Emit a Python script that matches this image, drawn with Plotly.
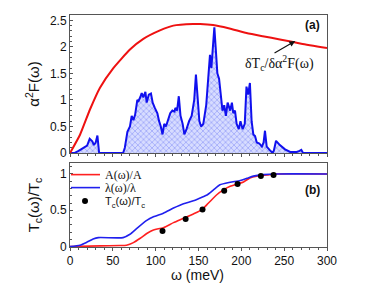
import plotly.graph_objects as go

# alpha^2 F(omega) spectrum
a2f_w = [0, 5, 10, 15, 20, 23, 26, 28, 30, 32, 33.5, 34, 40, 50, 62, 64, 66, 67, 70, 72, 74, 76, 78.6, 80, 82, 83.7, 85.6, 88, 89.5, 92, 94.5, 96.5,
         99, 102, 104, 106, 108, 110, 112, 115, 117, 119.5, 122, 123, 125, 127, 129, 131.5, 133.5, 136, 139, 142, 145, 147,
         148.6, 151, 153, 155.6, 159, 161.5, 163.4, 165, 167, 168.5, 170, 172, 174, 176, 178, 180, 182, 184, 187, 189, 190.6,
         192.6, 194.5, 197, 199, 201.5, 204, 206, 208, 210, 212, 214, 216, 218, 221, 224, 226, 227.6, 229.6, 233.5, 236.6,
         238, 240.5, 245, 251, 257, 264.6, 268, 270, 272, 280, 300]
a2f_v = [0, 0.0, 0.04, 0.09, 0.14, 0.27, 0.22, 0.15, 0.2, 0.33, 0.1, 0.0, 0, 0, 0, 0.1, 0.3, 0.4, 0.5, 0.7, 0.62, 0.72, 1.0, 0.98, 1.05, 1.13, 1.05, 1.15, 0.95, 1.1, 1.12, 0.95,
         0.85, 0.75, 0.6, 0.5, 0.35, 0.55, 0.5, 0.63, 0.75, 0.8, 0.78, 0.85, 0.8, 1.07, 0.7, 0.55, 0.35, 0.45, 0.6, 0.7, 1.0, 1.48,
         1.1, 0.6, 0.5, 0.55, 0.9, 1.5, 1.85, 1.6, 2.0, 2.37, 2.0, 1.5, 1.4, 1.1, 0.8, 0.9, 0.7, 0.95, 0.8, 0.95, 0.75,
         0.8, 0.55, 0.45, 0.6, 0.45, 0.55, 1.25, 1.1, 1.32, 0.6, 0.35, 0.32, 0.2, 0.18, 0.12, 0.2, 0.42, 0.12, 0.05, 0.0,
         0.05, 0.23, 0.15, 0.07, 0.02, 0.02, 0.04, 0.06, 0.0, 0, 0]

# functional derivative dTc/d(a2F)
dtc_w = [0, 11.7, 23.3, 35, 50.6, 70, 85.6, 105, 120.6, 143.8, 152, 167, 185, 206, 225, 245, 270, 300]
dtc_v = [0, 0.345, 0.82, 1.23, 1.6, 1.95, 2.15, 2.31, 2.40, 2.43, 2.43, 2.41, 2.35, 2.26, 2.2, 2.14, 2.06, 1.98]

# lambda(omega)/lambda
lam_w = [0, 11.7, 19.5, 27, 33, 62, 70, 78, 89.6, 97.4, 109, 120.8, 132.5, 144, 152, 160, 167.5, 175, 187, 198.7, 206.5, 214, 226, 241.5, 300]
lam_v = [0, 0.02, 0.06, 0.105, 0.124, 0.124, 0.17, 0.25, 0.36, 0.41, 0.46, 0.53, 0.59, 0.63, 0.67, 0.71, 0.78, 0.85, 0.885, 0.91, 0.94, 0.97, 0.99, 1.0, 1.0]

# A(omega)/A
A_w = [0, 35, 58, 66, 74, 82, 89.6, 97.4, 109, 120.8, 132.5, 144, 154, 161.7, 171, 179, 187, 194.8, 202.6, 210, 218, 230, 241.5, 300]
A_v = [0, 0.01, 0.015, 0.02, 0.055, 0.115, 0.18, 0.23, 0.26, 0.33, 0.39, 0.45, 0.51, 0.6, 0.71, 0.78, 0.83, 0.86, 0.89, 0.945, 0.97, 0.985, 1.0, 1.0]

# Tc(omega)/Tc points
tc_w = [108, 135, 154.7, 180, 195.6, 222.8, 237.6]
tc_v = [0.215, 0.38, 0.51, 0.77, 0.86, 0.97, 0.985]

fig = go.Figure()

fig.add_trace(go.Scatter(x=a2f_w, y=a2f_v, mode='lines', line=dict(color='#1010ee', width=2),
                         fill='tozeroy', fillcolor='rgba(190,195,255,1)',
                         fillpattern=dict(shape='x', fgcolor='rgba(70,80,240,0.8)', bgcolor='rgba(215,220,255,1)', size=4, solidity=0.35),
                         xaxis='x', yaxis='y', showlegend=False))
fig.add_trace(go.Scatter(x=dtc_w, y=dtc_v, mode='lines', line=dict(color='#ee1111', width=2, shape='spline', smoothing=0.5),
                         xaxis='x', yaxis='y', showlegend=False))

fig.add_trace(go.Scatter(x=A_w, y=A_v, mode='lines', name='A(ω)/A', line=dict(color='#ff2020', width=1.6, shape='spline', smoothing=0.6),
                         xaxis='x2', yaxis='y2', legend='legend'))
fig.add_trace(go.Scatter(x=lam_w, y=lam_v, mode='lines', name='λ(ω)/λ', line=dict(color='#2020ee', width=1.6, shape='spline', smoothing=0.6),
                         xaxis='x2', yaxis='y2', legend='legend2'))
fig.add_trace(go.Scatter(x=tc_w, y=tc_v, mode='markers', name='T<sub>c</sub>(ω)/T<sub>c</sub>', marker=dict(color='black', size=6),
                         xaxis='x2', yaxis='y2', legend='legend3'))

base = dict(showline=True, linecolor='#555', linewidth=1, mirror=True,
            tickcolor='#555', showgrid=False, zeroline=False, automargin=False,
            tickfont=dict(family='Liberation Sans', size=12, color='#111'))
xax = dict(ticks='outside', ticklen=3, minor=dict(ticks='outside', ticklen=1.5, tickcolor='#555', dtick=10), **base)
yax = dict(ticks='inside', ticklen=3, minor=dict(ticks='inside', ticklen=1.5, tickcolor='#555', dtick=0.1), **base)

leg = dict(x=0.004, xanchor='left', yanchor='middle', bgcolor='rgba(0,0,0,0)', itemwidth=30, indentation=-6)
serif = dict(family='Liberation Serif', size=12, color='#111')
sans = dict(family='Liberation Sans', size=11, color='#111')

fig.update_layout(
    width=366, height=283,
    margin=dict(l=62, r=47, t=7, b=44),
    paper_bgcolor='white', plot_bgcolor='white',
    xaxis=dict(domain=[0, 1], range=[0, 300], anchor='y', showticklabels=False, dtick=50, **xax),
    yaxis=dict(domain=[0.405, 1], range=[0, 2.6], anchor='x', tickvals=[0, 0.5, 1, 1.5, 2, 2.5],
               ticktext=['0', '0.5', '1', '1.5', '2', '2.5'],
               title=dict(text='α<sup>2</sup>F(ω)', font=dict(family='Liberation Sans', size=15, color='#111'), standoff=6),
               **yax),
    xaxis2=dict(domain=[0, 1], range=[0, 300], anchor='y2', dtick=50, **xax),
    yaxis2=dict(domain=[0, 0.362], range=[-0.005, 1.15], anchor='x2', tickvals=[0, 0.5, 1],
                ticktext=['0', '0.5', '1'],
                title=dict(text='T<sub>c</sub>(ω)/T<sub>c</sub>', font=dict(family='Liberation Sans', size=15, color='#111'), standoff=6),
                **yax),
    legend=dict(y=0.312, font=serif, **leg),
    legend2=dict(y=0.256, font=serif, **leg),
    legend3=dict(y=0.198, font=sans, **leg),
    annotations=[
        dict(text='ω (meV)', x=0.495, y=-0.122, xref='paper', yref='paper', xanchor='center', yanchor='middle',
             showarrow=False, font=dict(family='Liberation Sans', size=14, color='#111')),
        dict(text='<b>(a)</b>', x=0.98, y=0.957, xref='paper', yref='paper', xanchor='right', yanchor='middle',
             showarrow=False, font=dict(family='Liberation Sans', size=12, color='#111')),
        dict(text='<b>(b)</b>', x=0.98, y=0.246, xref='paper', yref='paper', xanchor='right', yanchor='middle',
             showarrow=False, font=dict(family='Liberation Sans', size=12, color='#111')),
        dict(text='δT<sub>c</sub>/δα<sup>2</sup>F(ω)', x=245, y=1.7, xref='x', yref='y', xanchor='center', yanchor='middle',
             showarrow=False, font=dict(family='Liberation Serif', size=14, color='#111')),
        dict(text='', x=263, y=2.11, ax=237, ay=1.87, xref='x', yref='y', axref='x', ayref='y',
             showarrow=True, arrowhead=2, arrowsize=1, arrowwidth=1.2, arrowcolor='#111'),
    ],
)

fig.write_html('out.html')
